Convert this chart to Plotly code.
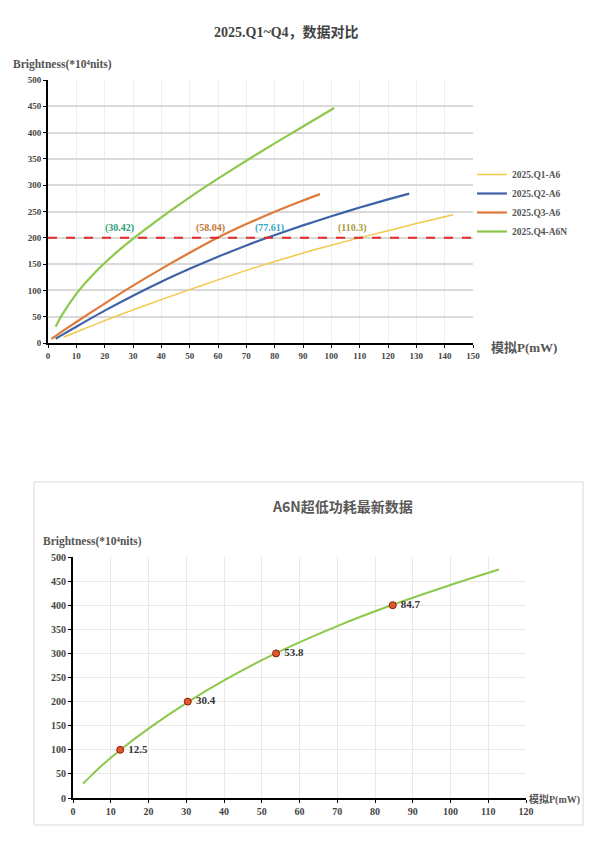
import plotly.graph_objects as go

# Top chart: four generations, brightness vs power
q1_x = [5.5, 10, 20, 30, 40, 50, 60, 70, 80, 90, 100, 110.3, 120, 130, 143]
q1_y = [11, 21, 42.5, 63, 82.5, 101.5, 120, 138, 155, 171, 186, 200.4, 213.5, 227, 244]

q2_x = [2.7, 5, 10, 20, 30, 40, 50, 60, 70, 77.6, 90, 100, 110, 120, 127.5]
q2_y = [8, 15.4, 31, 61.5, 90, 116.5, 141, 164, 185.5, 200.7, 223.6, 241, 257.5, 273, 284]

q3_x = [1.2, 5, 10, 20, 30, 40, 50, 60, 70, 80, 90, 96]
q3_y = [8, 22, 40, 75, 109, 141, 171.5, 200.5, 226, 249.5, 271, 283]

q4_x = [2.7, 5, 10, 15, 20, 25, 30.4, 40, 50, 60, 70, 80, 90, 101]
q4_y = [31, 54, 93.5, 125, 152, 176, 199.8, 239, 277, 312.5, 346.5, 379.5, 411.5, 446.7]

series_names = ["2025.Q1-A6", "2025.Q2-A6", "2025.Q3-A6", "2025.Q4-A6N"]
series_colors = ["#F2C84B", "#3E63A6", "#E0793A", "#8CC84B"]
series_widths = [1.5, 2.2, 2.2, 2.2]

threshold = 200
cross_x = [25.3, 57.3, 78, 107.3]
cross_labels = ["(30.42)", "(58.04)", "(77.61)", "(110.3)"]
cross_colors = ["#2E9E78", "#C0783A", "#3AA6C6", "#B09A3A"]

# Bottom chart: A6N latest data
a6n_x = [2.7, 5, 8, 12.5, 20, 30.4, 40, 53.8, 70, 84.7, 100, 112.8]
a6n_y = [30, 48, 70, 99.7, 144, 199, 244, 300.6, 356.7, 400.8, 442, 474]
pt_x = [12.5, 30.4, 53.8, 84.7]
pt_y = [100, 200, 300, 400]
pt_labels = ["12.5", "30.4", "53.8", "84.7"]

serif = "Liberation Serif"
cjk = "Noto Sans CJK SC"

# page body has an 8px margin, so the figure is sized to the visible area
W, H = 592, 842


def px(X):
    return (X - 8) / W


def py(Y):
    return 1 - (Y - 8) / H


fig = go.Figure()

for xs, ys, name, col, w in zip([q1_x, q2_x, q3_x, q4_x], [q1_y, q2_y, q3_y, q4_y],
                                series_names, series_colors, series_widths):
    fig.add_trace(go.Scatter(x=xs, y=ys, name=name, mode="lines",
                             line=dict(color=col, width=w, shape="spline", smoothing=0.8),
                             xaxis="x", yaxis="y"))

fig.add_trace(go.Scatter(x=a6n_x, y=a6n_y, mode="lines", showlegend=False,
                         line=dict(color="#8CC84B", width=2, shape="spline", smoothing=0.8),
                         xaxis="x2", yaxis="y2"))
fig.add_trace(go.Scatter(x=pt_x, y=pt_y, mode="markers+text", showlegend=False,
                         text=["&nbsp;<b>%s</b>" % t for t in pt_labels], textposition="middle right",
                         textfont=dict(family=serif, size=11, color="#333"),
                         marker=dict(size=7, color="#E2582A",
                                     line=dict(color="#8B1A10", width=1)),
                         xaxis="x2", yaxis="y2"))

axis_common = dict(showline=True, linecolor="black", linewidth=2, ticks="outside",
                   ticklen=3, tickcolor="black", zeroline=False, automargin=False)

fig.update_layout(
    width=W, height=H,
    margin=dict(l=0, r=0, t=0, b=0),
    paper_bgcolor="white", plot_bgcolor="white",
    font=dict(family=serif, color="#333"),
    xaxis=dict(domain=[px(48), px(473)], range=[0, 150], dtick=10, anchor="y",
               showgrid=True, gridcolor="#EEEEEE", gridwidth=1,
               tickfont=dict(family=serif, size=9, color="#444", weight="bold"), **axis_common),
    yaxis=dict(domain=[py(343), py(80)], range=[0, 500], dtick=50, anchor="x",
               showgrid=True, gridcolor="#D9D9D9", gridwidth=1.5,
               tickfont=dict(family=serif, size=9, color="#444", weight="bold"), **axis_common),
    xaxis2=dict(domain=[px(73), px(526)], range=[0, 120], dtick=10, anchor="y2",
                showgrid=True, gridcolor="#E8E8E8", gridwidth=1,
                tickfont=dict(family=serif, size=10, color="#444", weight="bold"), **axis_common),
    yaxis2=dict(domain=[py(798), py(557)], range=[0, 500], dtick=50, anchor="x2",
                showgrid=True, gridcolor="#E8E8E8", gridwidth=1,
                tickfont=dict(family=serif, size=10, color="#444", weight="bold"), **axis_common),
    legend=dict(x=px(472), y=py(160), xanchor="left", yanchor="top",
                font=dict(family=serif, size=9.5, color="#555", weight="bold"),
                bgcolor="rgba(0,0,0,0)", tracegroupgap=0),
    showlegend=True,
)

# threshold line
fig.add_shape(type="line", xref="x", yref="y", x0=0, x1=150, y0=threshold, y1=threshold,
              line=dict(color="#E02828", width=2, dash="dash"))

for cx, lab, col in zip(cross_x, cross_labels, cross_colors):
    fig.add_annotation(x=cx, y=threshold + 18, xref="x", yref="y", text="<b>%s</b>" % lab,
                       showarrow=False, font=dict(family=serif, size=10, color=col))

# bottom chart frame
fig.add_shape(type="rect", xref="paper", yref="paper", x0=px(34), x1=px(583), y0=py(825), y1=py(482),
              line=dict(color="#D9D9D9", width=1), layer="below")

texts = [
    (286, 32, "<b>2025.Q1~Q4，数据对比</b>", dict(family=serif + ", " + cjk, size=14, color="#444"), "center"),
    (11, 64, "<b>Brightness(*10⁴nits)</b>", dict(family=serif, size=11.5, color="#555"), "left"),
    (489, 347, "<b>模拟P(mW)</b>", dict(family=serif + ", " + cjk, size=13, color="#555"), "left"),
    (342, 506, "<b>A6N超低功耗最新数据</b>", dict(family=cjk, size=14, color="#595959"), "center"),
    (41, 541, "<b>Brightness(*10⁴nits)</b>", dict(family=serif, size=11.5, color="#555"), "left"),
    (527, 799, "<b>模拟P(mW)</b>", dict(family=serif + ", " + cjk, size=10, color="#555"), "left"),
]
for X, Y, t, f, anc in texts:
    fig.add_annotation(x=px(X), y=py(Y), xref="paper", yref="paper", text=t, showarrow=False,
                       font=f, xanchor=anc, yanchor="middle")

fig.write_html("out.html")
